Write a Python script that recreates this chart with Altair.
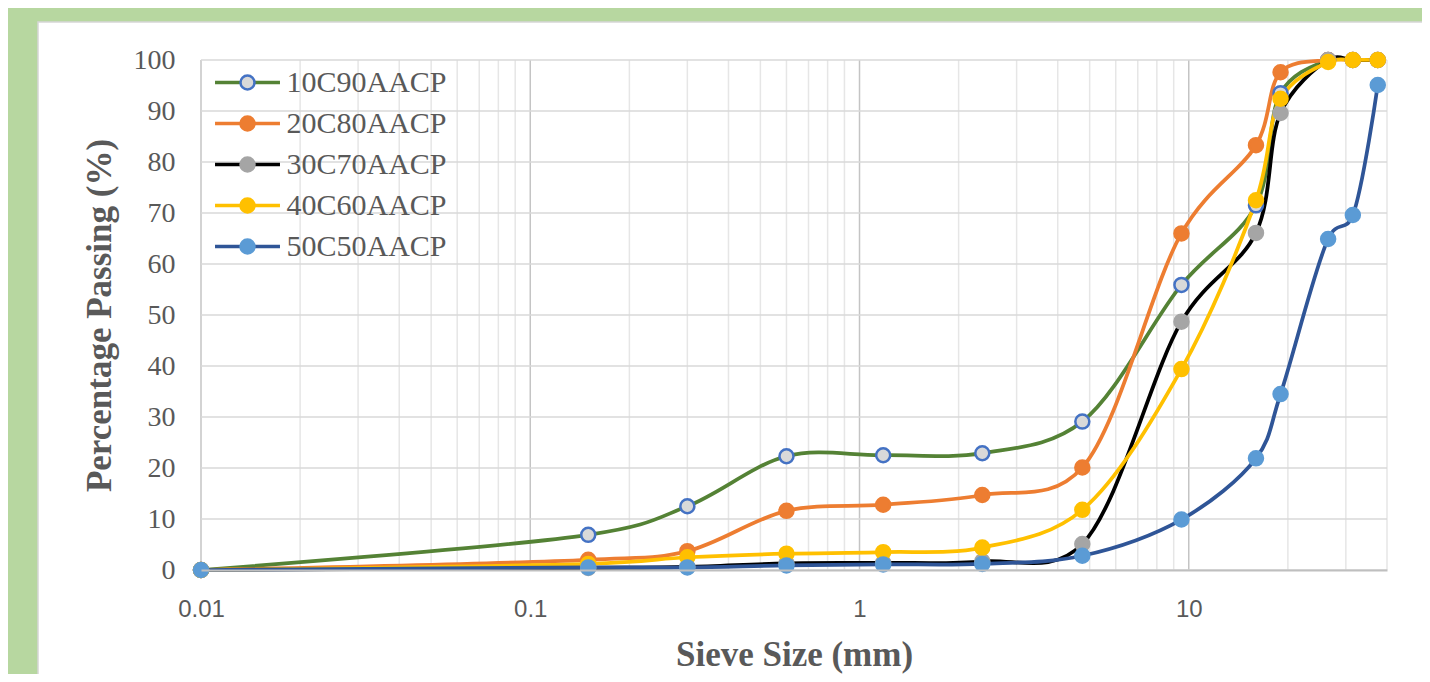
import altair as alt
import pandas as pd

# ---------------- data ----------------
sizes = [0.01, 0.15, 0.3, 0.6, 1.18, 2.36, 4.75, 9.5, 16, 19, 26.5, 31.5, 37.5]
series = ["10C90AACP", "20C80AACP", "30C70AACP", "40C60AACP", "50C50AACP"]
p10c90 = [0, 6.9, 12.5, 22.3, 22.5, 22.9, 29.1, 55.9, 71.5, 93.5, 100, 100, 100]
p20c80 = [0, 2.0, 3.7, 11.6, 12.8, 14.7, 20.1, 66.0, 83.3, 97.6, 100, 100, 100]
p30c70 = [0, 0.4, 0.6, 1.3, 1.4, 1.7, 5.1, 48.7, 66.1, 89.6, 100, 100, 100]
p40c60 = [0, 1.2, 2.5, 3.2, 3.5, 4.4, 11.8, 39.4, 72.5, 92.4, 99.6, 100, 100]
p50c50 = [0, 0.5, 0.5, 0.9, 1.1, 1.2, 2.8, 9.9, 21.9, 34.5, 64.9, 69.6, 95.1]
all_values = [p10c90, p20c80, p30c70, p40c60, p50c50]

line_colors = ["#548235", "#ED7D31", "#000000", "#FFC000", "#2F5597"]
marker_fill = ["#D9D9D9", "#ED7D31", "#A5A5A5", "#FFC000", "#5B9BD5"]
marker_edge = ["#4472C4", "#ED7D31", "#A5A5A5", "#FFC000", "#5B9BD5"]

major_x = [0.01, 0.1, 1, 10]
minor_x = [0.02, 0.03, 0.04, 0.05, 0.06, 0.07, 0.08, 0.09,
           0.2, 0.3, 0.4, 0.5, 0.6, 0.7, 0.8, 0.9,
           2, 3, 4, 5, 6, 7, 8, 9, 20, 30, 40]
y_ticks = [0, 10, 20, 30, 40, 50, 60, 70, 80, 90, 100]

rows = []
for name, vals in zip(series, all_values):
    for s, v in zip(sizes, vals):
        rows.append({"series": name, "size": s, "passing": v})
df = pd.DataFrame(rows)

# ---------------- styling ----------------
GRAY = "#595959"
SERIF = "Liberation Serif"
SANS = "Liberation Sans"
W, H = 1186, 510

xscale = alt.Scale(type="log", domain=[0.01, 40], nice=False)
yscale = alt.Scale(domain=[0, 100], nice=False, zero=False)

xaxis = alt.Axis(values=major_x, format="~g", grid=False, ticks=False,
                 labelFont=SANS, labelFontSize=24, labelColor=GRAY,
                 labelPadding=27, labelFlush=False, labelOverlap=False,
                 domainColor="#BFBFBF", domainWidth=2,
                 title="Sieve Size (mm)", titleFont=SERIF, titleFontSize=35,
                 titleFontWeight="bold", titleColor=GRAY,
                 titleX=593, titleY=95, titleBaseline="alphabetic",
                 titleAlign="center", zindex=1)
yaxis = alt.Axis(values=y_ticks, grid=False, ticks=False, domain=False,
                 labelFont=SERIF, labelFontSize=28, labelColor=GRAY,
                 labelPadding=26, labelFlush=False, labelOverlap=False,
                 title="Percentage Passing (%)", titleFont=SERIF,
                 titleFontSize=35, titleFontWeight="bold", titleColor=GRAY,
                 titleAngle=270, titleX=-91, titleY=255,
                 titleBaseline="alphabetic", titleAlign="center", zindex=1)

X = alt.X("size:Q", scale=xscale, axis=xaxis)
Y = alt.Y("passing:Q", scale=yscale, axis=yaxis)

panel = alt.Chart(alt.Data(values=[{}])).mark_rect(
    color="white", stroke="#D6D6D6", strokeWidth=1.5
).encode(x=alt.value(-163), x2=alt.value(1260),
         y=alt.value(-38), y2=alt.value(700))

minor_grid = alt.Chart(pd.DataFrame({"size": minor_x})).mark_rule(
    color="#E6E6E6", strokeWidth=1.5
).encode(x=X)

major_grid = alt.Chart(pd.DataFrame({"size": major_x})).mark_rule(
    color="#C4C4C4", strokeWidth=1.5
).encode(x=X)

h_grid = alt.Chart(pd.DataFrame({"passing": y_ticks})).mark_rule(
    color="#D9D9D9", strokeWidth=1.5
).encode(y=Y)

LEG_X, LEG_Y = 31.5, 7.5

lines = alt.Chart(df).mark_line(interpolate="catmull-rom", tension=0.2,
                                strokeWidth=3.75).encode(
    x=X, y=Y,
    stroke=alt.Stroke("series:N",
                      scale=alt.Scale(domain=series, range=line_colors),
                      legend=alt.Legend(
                          title=None, orient="none", legendX=LEG_X, legendY=LEG_Y,
                          padding=0, symbolType="M-4.06,0L4.06,0", symbolSize=256,
                          symbolStrokeWidth=3.5, labelFont=SERIF, labelFontSize=30,
                          labelColor=GRAY, labelOffset=24, labelLimit=400,
                          rowPadding=11, zindex=1)),
)

point_legend = alt.Legend(
    title=None, orient="none", legendX=LEG_X, legendY=LEG_Y,
    padding=0, symbolType="circle", symbolSize=196,
    symbolStrokeWidth=2.5, symbolOpacity=1,
    labelFont=SERIF, labelFontSize=30, labelLimit=400,
    labelColor="rgba(0,0,0,0)", labelOffset=24, rowPadding=11, zindex=2)

points = alt.Chart(df).mark_circle(size=196, opacity=1, strokeWidth=2.5).encode(
    x=X, y=Y,
    fill=alt.Fill("series:N", scale=alt.Scale(domain=series, range=marker_fill),
                  legend=point_legend),
    stroke=alt.Stroke("series:N", scale=alt.Scale(domain=series, range=marker_edge),
                      legend=point_legend),
)

chart = alt.layer(panel, minor_grid, major_grid, h_grid, lines, points).resolve_scale(
    stroke="independent", fill="independent"
).properties(
    width=W, height=H,
    padding={"left": 193, "top": 52, "right": 35, "bottom": 104},
    autosize=alt.AutoSizeParams(type="none"),
).configure(background="#B7D7A0").configure_view(stroke=None)

chart.save("out.html", embed_options={"renderer": "svg", "actions": False})
